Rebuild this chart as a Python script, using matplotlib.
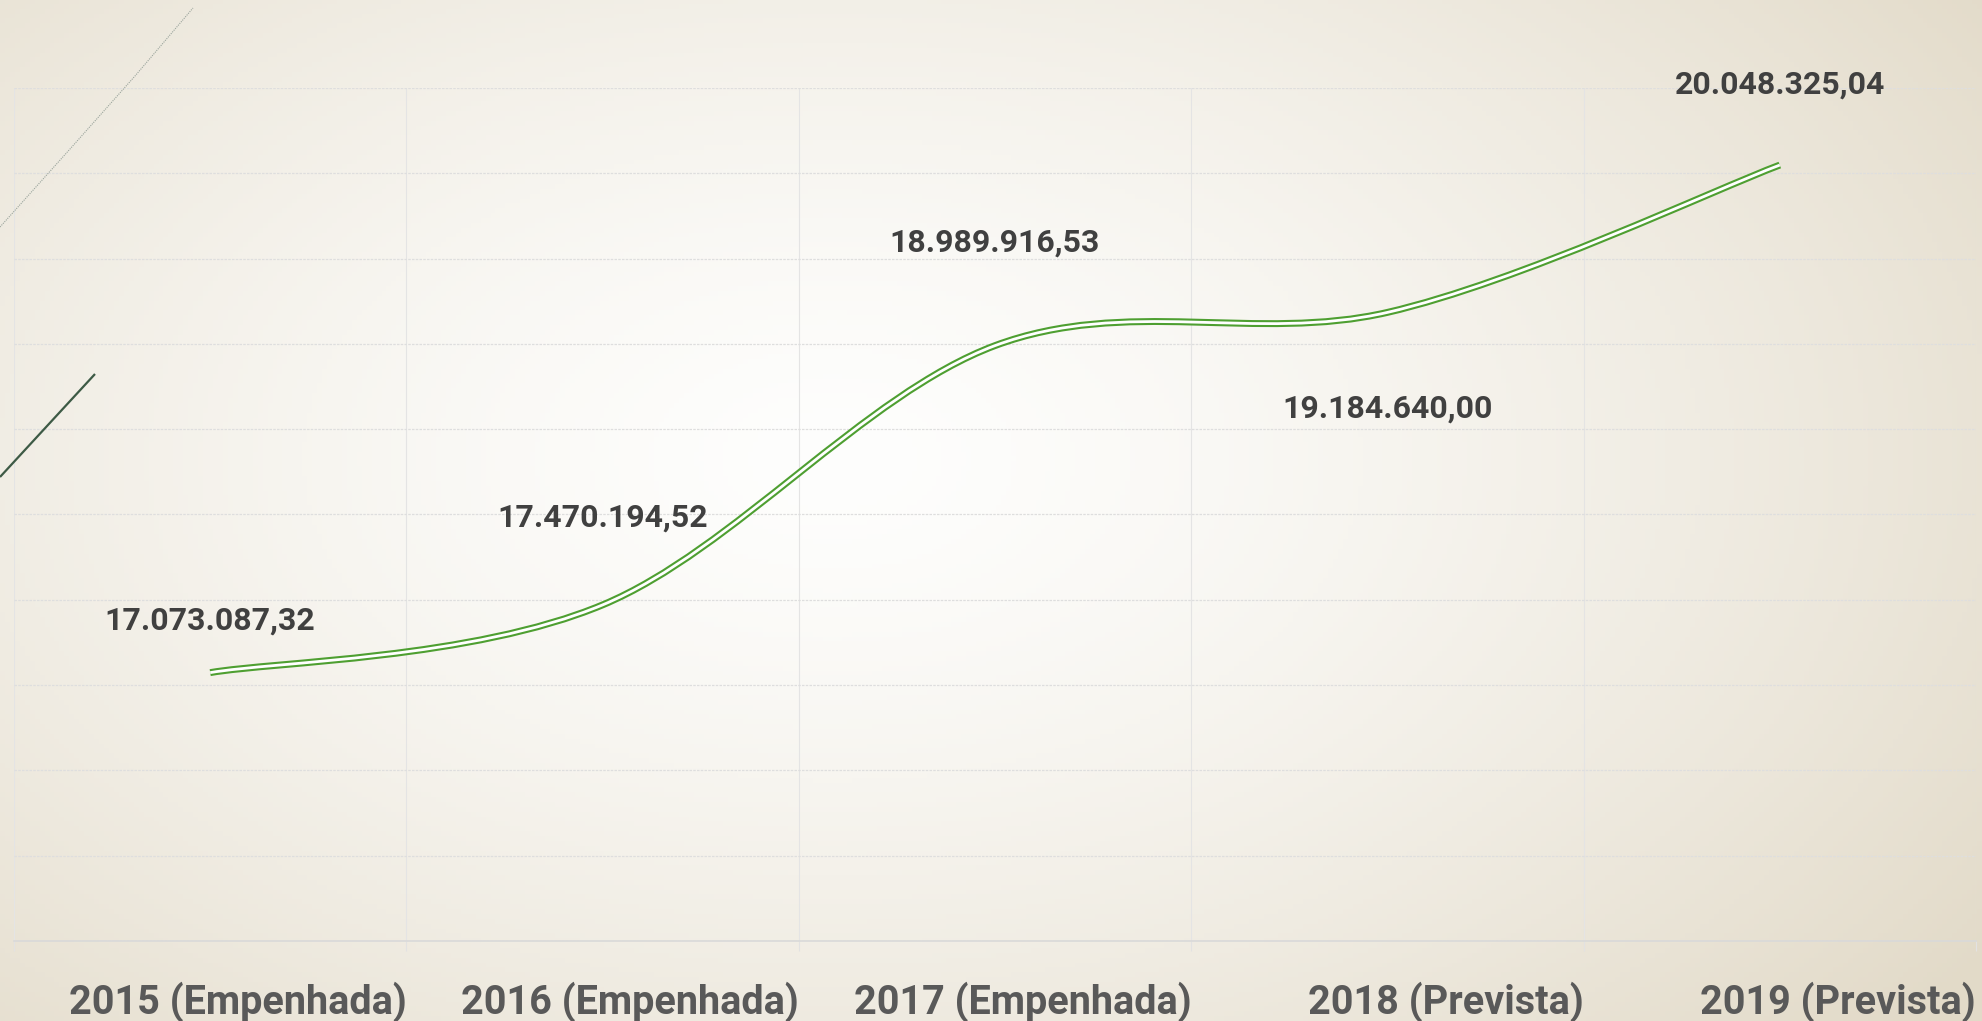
import numpy as np
import matplotlib
matplotlib.use("Agg")
import matplotlib.pyplot as plt
from matplotlib.path import Path
from matplotlib.patches import PathPatch
from matplotlib.lines import Line2D

categories = ["2015 (Empenhada)", "2016 (Empenhada)", "2017 (Empenhada)",
              "2018 (Prevista)", "2019 (Prevista)"]
values = [17073087.32, 17470194.52, 18989916.53, 19184640.00, 20048325.04]
value_labels = ["17.073.087,32", "17.470.194,52", "18.989.916,53",
                "19.184.640,00", "20.048.325,04"]
# label offsets in pixels (above positive, below negative)
label_offsets = [52, 87, 103, -96, 80]

W, H = 1982, 1021
fig = plt.figure(figsize=(W / 100, H / 100), dpi=100)

# background radial gradient
bg = fig.add_axes([0, 0, 1, 1], zorder=-10)
gx, gy = np.meshgrid(np.linspace(0, 1, 400), np.linspace(0, 1, 210))
d = np.sqrt(((gx - 0.42) / 0.72) ** 2 + ((gy - 0.45) / 0.85) ** 2)
t = np.clip(d, 0, 1) ** 1.4
white = np.array([254, 254, 253]) / 255
beige = np.array([226, 218, 200]) / 255
img = white[None, None, :] * (1 - t[..., None]) + beige[None, None, :] * t[..., None]
bg.imshow(img, extent=[0, 1, 0, 1], aspect="auto", origin="upper")
bg.axis("off")

# decorative strokes in the top-left corner
fig.add_artist(Line2D(np.array([0, 70, 135, 193]) / W,
                      1 - np.array([227, 149, 76, 8]) / H,
                      transform=fig.transFigure, color="#9aa49c",
                      lw=0.8, ls=(0, (1, 1))))
fig.add_artist(Line2D([0 / W, 95 / W], [1 - 477 / H, 1 - 374 / H],
                      transform=fig.transFigure, color="#3d5a45", lw=1.6,
                      solid_capstyle="butt"))

ax = fig.add_axes([14 / W, 80 / H, 1962 / W, 853 / H])
ax.set_facecolor("none")
x = np.arange(len(values))
ax.set_xlim(-0.5, len(values) - 0.5)
ax.set_ylim(15.5e6, 20.5e6)

# horizontal grid
ax.set_yticks(np.arange(15.5e6, 20.51e6, 0.5e6))
ax.tick_params(axis="y", left=False, labelleft=False)
ax.yaxis.grid(True, color="#dedede", lw=0.9, ls=(0, (2, 1)))

# vertical grid at category boundaries, labels right-aligned there
ax.set_xticks(np.arange(-0.5, len(values), 1.0))
ax.set_xticklabels([""] + categories, ha="right",
                   fontfamily="Roboto", fontweight="bold",
                   fontsize=28.5, color="#595959")
ax.tick_params(axis="x", length=7, color="#e2e2e2", width=0.8, pad=22)
ax.xaxis.grid(True, color="#e4e4e4", lw=0.8)
ax.set_axisbelow(True)

for s in ["top", "left", "right"]:
    ax.spines[s].set_visible(False)
ax.spines["bottom"].set_color("#d9d9d9")
ax.spines["bottom"].set_linewidth(1.2)

# smoothed line (Catmull-Rom style Bezier, as in Office charts)
pts = np.column_stack([x, values]).astype(float)
verts = [tuple(pts[0])]
codes = [Path.MOVETO]
n = len(pts)
for i in range(n - 1):
    p0 = pts[max(i - 1, 0)]
    p1 = pts[i]
    p2 = pts[i + 1]
    p3 = pts[min(i + 2, n - 1)]
    c1 = p1 + (p2 - p0) / 6
    c2 = p2 - (p3 - p1) / 6
    verts += [tuple(c1), tuple(c2), tuple(p2)]
    codes += [Path.CURVE4] * 3
path = Path(verts, codes)
ax.add_patch(PathPatch(path, fill=False, edgecolor="#4e9f31", lw=5.0,
                       capstyle="butt", zorder=3))
ax.add_patch(PathPatch(path, fill=False, edgecolor="white", lw=2.0,
                       capstyle="butt", zorder=4))

for xi, v, lab, off in zip(x, values, value_labels, label_offsets):
    ax.annotate(lab, (xi, v), xytext=(0, off), textcoords="offset pixels",
                ha="center", va="center", fontfamily="Roboto",
                fontweight="bold", fontsize=23, color="#404040",
                annotation_clip=False, zorder=5)

fig.savefig("out.png", dpi=100)
